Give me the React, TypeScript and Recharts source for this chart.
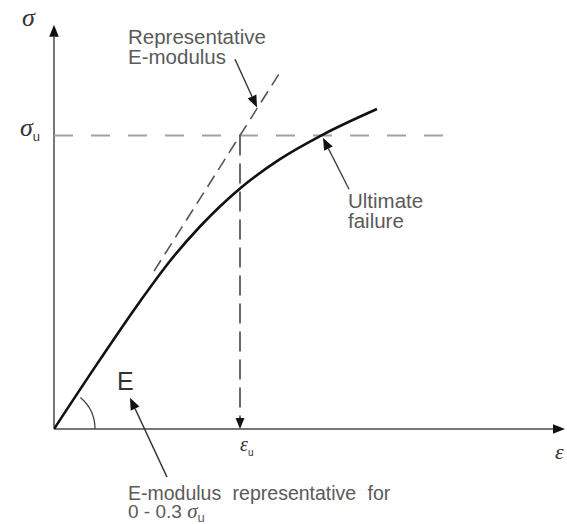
import { ComposedChart, Line, XAxis, YAxis, ReferenceLine, ReferenceDot } from "recharts";

// stress-strain curve (strain and stress in % of plot range)
const strain = [0, 9.2, 17.2, 23.2, 29.2, 37.2, 45.2, 53.6, 64.6];
const stress = [0, 17.3, 31.8, 41.9, 50.5, 60.0, 67.3, 73.3, 79.8];
const SIGMA_U = 73.2;
const EPS_U = 37.2;
const secantStrain = [20, 45];

const curve = strain.map((x, i) => ({ x, y: stress[i] }));
const secant = secantStrain.map((x) => ({ x, y: (x * SIGMA_U) / EPS_U }));

const SANS = "'Liberation Sans', Arial, sans-serif";
const SERIF = "'Liberation Serif', 'Times New Roman', serif";
const TXT = "#5a5a5a";

const arrow = (size: number, color: string) => (p: any) => {
  const { x1, y1, x2, y2, stroke, strokeWidth, strokeDasharray } = p;
  const a = Math.atan2(y2 - y1, x2 - x1);
  const bx = x2 - size * Math.cos(a);
  const by = y2 - size * Math.sin(a);
  const w = size * 0.4;
  const pts = `${x2},${y2} ${bx - w * Math.sin(a)},${by + w * Math.cos(a)} ${bx + w * Math.sin(a)},${by - w * Math.cos(a)}`;
  return (
    <g>
      <line x1={x1} y1={y1} x2={bx} y2={by} stroke={stroke} strokeWidth={strokeWidth} strokeDasharray={strokeDasharray} />
      <polygon points={pts} fill={color} />
    </g>
  );
};

const label = (lines: string[], size = 20.5, gap = 20, extra: any = {}) => (p: any) => (
  <text x={p.cx} y={p.cy} fontFamily={SANS} fontSize={size} fill={TXT} {...extra}>
    {lines.map((l, i) => (
      <tspan key={i} x={p.cx} dy={i ? gap : 0}>{l}</tspan>
    ))}
  </text>
);

const greek = (sym: string, sub: string, size = 26) => (p: any) => (
  <text x={p.cx} y={p.cy} fontFamily={SERIF} fontStyle="italic" fontSize={size} fill="#333">
    {sym}
    {sub && <tspan dy={5} fontSize={size * 0.5} fontStyle="normal" fontFamily={SANS}>{sub}</tspan>}
  </text>
);

const angleArc = (p: any) => {
  const r = 41;
  const a = (50 * Math.PI) / 180;
  return (
    <path d={`M ${p.cx + r} ${p.cy} A ${r} ${r} 0 0 0 ${p.cx + r * Math.cos(a)} ${p.cy - r * Math.sin(a)}`}
      fill="none" stroke="#444" strokeWidth={1.3} />
  );
};

const bottomLine2 = (p: any) => (
  <text x={p.cx} y={p.cy} fontFamily={SANS} fontSize={19} fill={TXT}>
    0 - 0.3{" "}
    <tspan fontFamily={SERIF} fontStyle="italic" fontSize={21}>σ</tspan>
    <tspan dy={4} fontSize={13}>u</tspan>
  </text>
);

export default function App() {
  return (
    <div style={{ position: "absolute", left: 0, top: 0, background: "#fff" }}>
      <ComposedChart width={567} height={524} margin={{ top: 28, right: 13, bottom: 95, left: 54 }}>
        <XAxis type="number" dataKey="x" domain={[0, 100]} allowDataOverflow hide />
        <YAxis type="number" domain={[0, 100]} allowDataOverflow hide />

        {/* axes */}
        <ReferenceLine segment={[{ x: 0, y: 0 }, { x: 0, y: 100.8 }]} stroke="#777" strokeWidth={2}
          ifOverflow="visible" shape={arrow(12, "#111")} />
        <ReferenceLine segment={[{ x: 0, y: 0 }, { x: 102.2, y: 0 }]} stroke="#777" strokeWidth={2}
          ifOverflow="visible" shape={arrow(12, "#111")} />

        {/* ultimate stress and strain */}
        <ReferenceLine segment={[{ x: 0, y: SIGMA_U }, { x: 81, y: SIGMA_U }]} stroke="#a0a0a0" strokeWidth={2}
          strokeDasharray="19 18" ifOverflow="visible" />
        <ReferenceLine segment={[{ x: EPS_U, y: SIGMA_U }, { x: EPS_U, y: 0 }]} stroke="#444" strokeWidth={1.6}
          strokeDasharray="20 8" ifOverflow="visible" shape={arrow(11, "#111")} />

        <Line data={secant} dataKey="y" type="linear" stroke="#555" strokeWidth={1.6} strokeDasharray="13 7"
          dot={false} isAnimationActive={false} />
        <Line data={curve} dataKey="y" type="monotone" stroke="#111" strokeWidth={2.6}
          dot={false} isAnimationActive={false} />

        {/* annotation arrows */}
        <ReferenceLine segment={[{ x: 36.2, y: 92.2 }, { x: 40.6, y: 80.2 }]} stroke="#333" strokeWidth={1.4}
          ifOverflow="visible" shape={arrow(12, "#111")} />
        <ReferenceLine segment={[{ x: 59, y: 59.8 }, { x: 53.8, y: 72.6 }]} stroke="#444" strokeWidth={1.4}
          ifOverflow="visible" shape={arrow(12, "#111")} />
        <ReferenceLine segment={[{ x: 22.6, y: -12 }, { x: 15.2, y: 7.8 }]} stroke="#333" strokeWidth={1.4}
          ifOverflow="visible" shape={arrow(12, "#111")} />

        <ReferenceDot x={0} y={0} r={0} ifOverflow="visible" shape={angleArc} />

        {/* texts */}
        <ReferenceDot x={14.8} y={96} r={0} ifOverflow="visible" shape={label(["Representative", "E-modulus"])} />
        <ReferenceDot x={58.8} y={55.2} r={0} ifOverflow="visible" shape={label(["Ultimate", "failure"])} />
        <ReferenceDot x={12.6} y={9.8} r={0} ifOverflow="visible" shape={label(["E"], 25, 0, { fill: "#333" })} />
        <ReferenceDot x={14.8} y={-17.8} r={0} ifOverflow="visible"
          shape={label(["E-modulus representative for"], 19.5, 0, { wordSpacing: 6 })} />
        <ReferenceDot x={14.8} y={-22.3} r={0} ifOverflow="visible" shape={bottomLine2} />

        <ReferenceDot x={-6.4} y={100.5} r={0} ifOverflow="visible" shape={greek("σ", "")} />
        <ReferenceDot x={-6.8} y={73} r={0} ifOverflow="visible" shape={greek("σ", "u")} />
        <ReferenceDot x={37.2} y={-5.5} r={0} ifOverflow="visible" shape={greek("ε", "u", 20)} />
        <ReferenceDot x={100.2} y={-7.5} r={0} ifOverflow="visible" shape={greek("ε", "", 22)} />
      </ComposedChart>
    </div>
  );
}
